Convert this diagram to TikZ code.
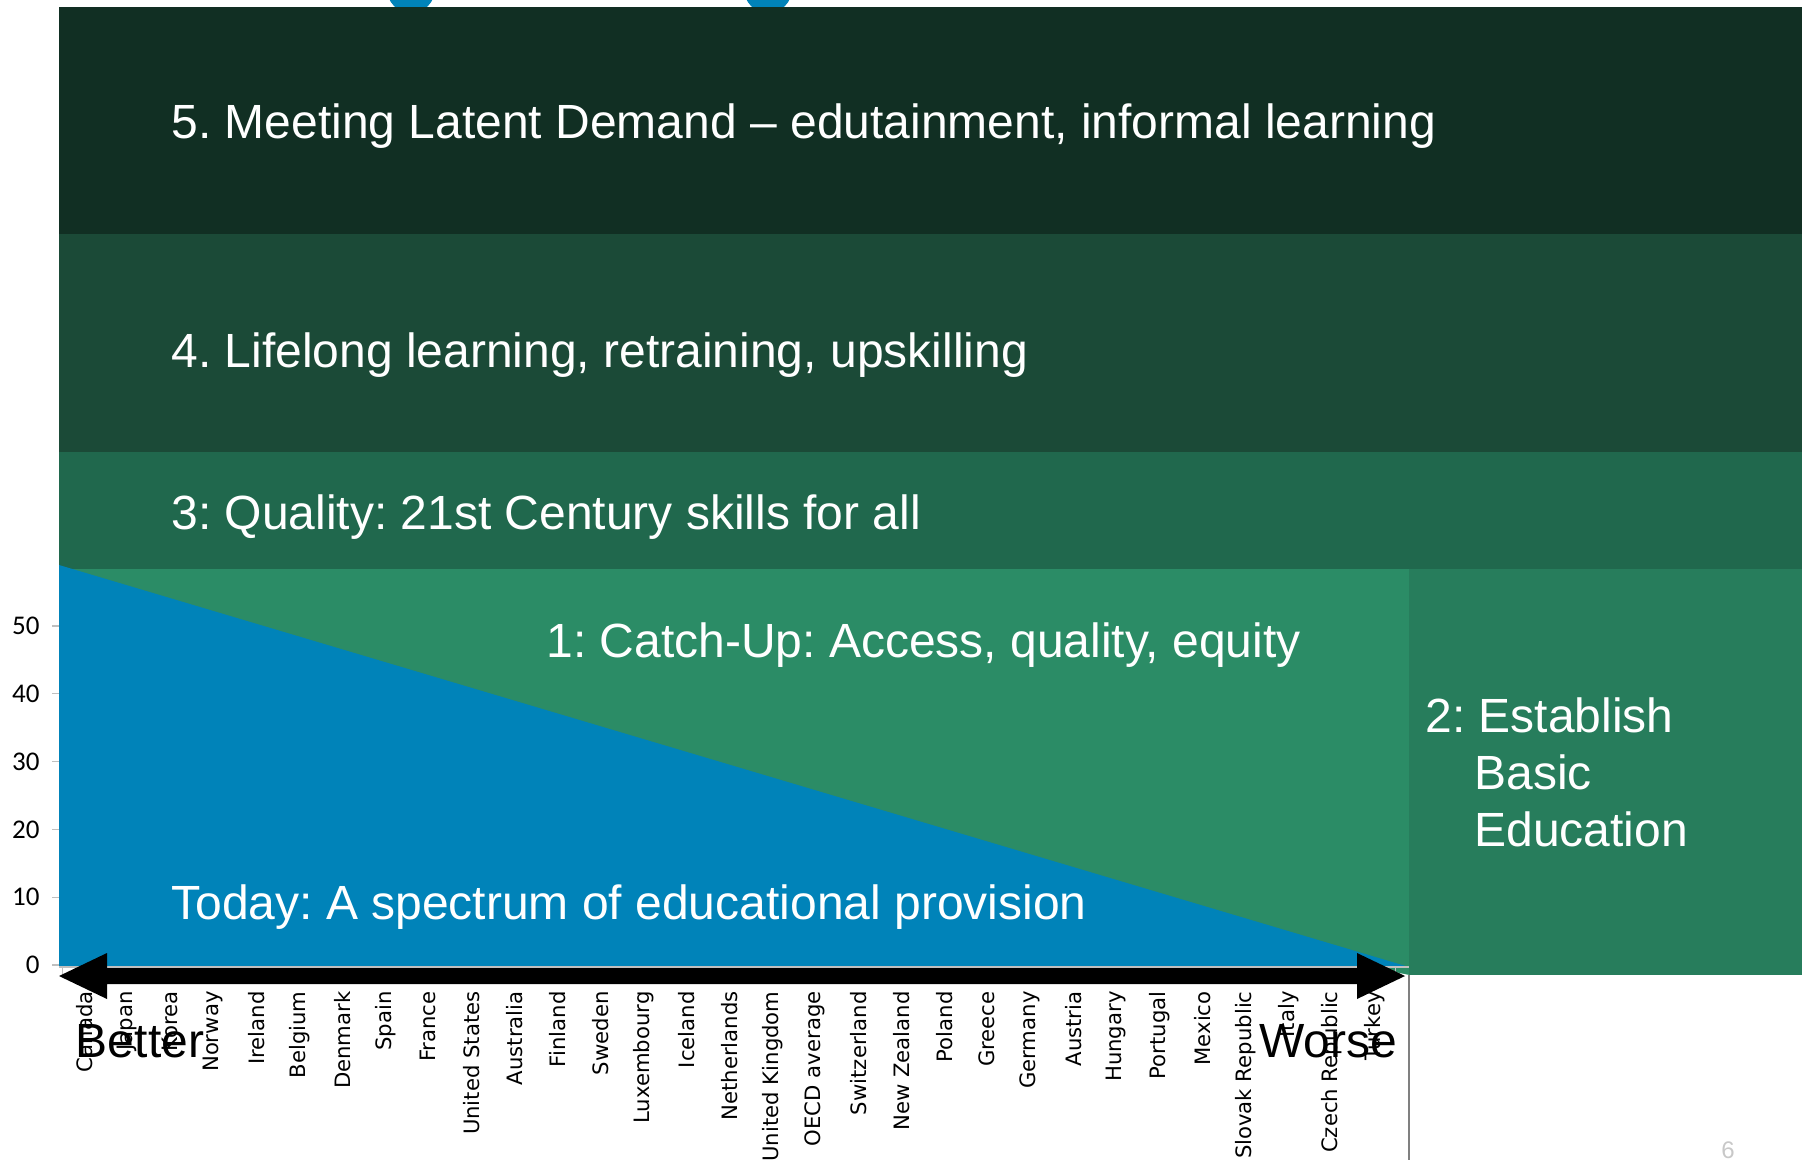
\documentclass[tikz,border=0pt]{standalone}
\usepackage{fontspec}
\setmainfont{Liberation Sans}
\newfontfamily\countryfont{DejaVu Sans}
\newfontfamily\axisfont{Carlito}
\usetikzlibrary{calc,positioning}
\frenchspacing
\definecolor{color_band_five}{HTML}{112F23}
\definecolor{color_band_four}{HTML}{1B4A37}
\definecolor{color_band_three}{HTML}{20684D}
\definecolor{color_band_two}{HTML}{277D5C}
\definecolor{color_band_one}{HTML}{2B8C66}
\definecolor{color_blue}{HTML}{0083B9}
\definecolor{color_axis}{HTML}{BFBFBF}
\definecolor{color_frame}{HTML}{808080}
\definecolor{color_page}{HTML}{C8C8C8}

\tikzset{
  stagetext/.style={text=white, font=\fontsize{24}{28.8}\selectfont, anchor=base west, inner sep=0pt},
  endtext/.style={text=black, font=\fontsize{24}{28}\selectfont, anchor=base, inner sep=0pt},
  country/.style={font=\countryfont\fontsize{10.6}{13}\selectfont, rotate=90, anchor=east, inner sep=0pt},
  axislabel/.style={font=\axisfont\fontsize{13.5}{16}\selectfont, anchor=east, inner sep=0pt}
}

\begin{document}
\begin{tikzpicture}[x=0.5pt,y=-0.5pt]
				\useasboundingbox (0,0) rectangle (1802,1160);
				% Points
				\coordinate (TL) at (59,7);
				\coordinate (TR) at (1802,7);
				\coordinate (CL) at (59,569);
				\coordinate (CR) at (1409,569);
				\coordinate (BL) at (59,967);
				\coordinate (BR) at (1409,967);

				% Dots peeking over the top
				\fill[color_blue]
					(411,-11) circle(12pt)
					(768,-11) circle(12pt)
					;

				% Bands
				\fill[color_band_five] (TL) rectangle (1802,234);
				\fill[color_band_four] (59,234) rectangle (1802,452);
				\fill[color_band_three] (59,452) rectangle (1802,569);
				\fill[color_band_one] (CL) rectangle (1409,975);
				\fill[color_band_two] (CR) rectangle (1802,975);

				% Today (blue wedge)
				\fill[color_blue]
					(59,565) --
					(BR) --
					(BL) --
					cycle;
				\fill[white]
					(BL) -- (1370,967) -- (1409,975) -- (59,975) -- cycle;

				% Axes
				\draw[color_axis, line width=0.6pt] (BL) -- (BR);
				\foreach \k in {0,...,31}
					\draw[color_axis, line width=0.6pt] ({62.7+43*\k},967) -- ({62.7+43*\k},974);
				\foreach \v in {0,10,...,50} {
					\draw[color_axis, line width=0.6pt] (52,{965-6.78*\v}) -- (59,{965-6.78*\v});
					\node[axislabel] (y\v) at (40,{965-6.78*\v}) {\v};
				}
				\draw[color_frame, line width=0.6pt] (1409,975) -- (1409,1160);

				% Better / worse arrow
				\fill[black]
					(59,976) -- (107,953) -- (107,968) -- (1357,968) -- (1357,953) --
					(1405,976) --
					(1357,999) -- (1357,984) -- (107,984) -- (107,999) -- cycle;

				% Countries
				\foreach \name [count=\i] in {Canada, Japan, Korea, Norway, Ireland, Belgium,
					Denmark, Spain, France, United States, Australia, Finland, Sweden,
					Luxembourg, Iceland, Netherlands, United Kingdom, OECD average,
					Switzerland, New Zealand, Poland, Greece, Germany, Austria, Hungary,
					Portugal, Mexico, Slovak Republic, Italy, Czech Republic, Turkey}
					\node[country] (c\i) at ({62.7+43*(\i-0.5)},991) {\name};

				\node[endtext] (better) at (140,1057) {Better};
				\node[endtext] (worse) at (1328,1057) {Worse};

				% Stages
				\node[stagetext] (stage5) at (171,139) {5. Meeting Latent Demand – edutainment, informal learning};
				\node[stagetext] (stage4) at (171,367) {4. Lifelong learning, retraining, upskilling};
				\node[stagetext] (stage3) at (171,529) {3: Quality: 21st Century skills for all};
				\node[stagetext] (stage1) at (546,657) {1: Catch-Up: Access, quality, equity};
				\node[stagetext] (today) at (171,919) {Today: A spectrum of educational provision};
				\node[stagetext] (stage2) at (1425,732) {2: Establish};
				\node[stagetext] (stage2b) at (1474,789) {Basic};
				\node[stagetext] (stage2c) at (1474,846) {Education};

				% Page number
				\node[anchor=base, inner sep=0pt, text=color_page, font=\fontsize{12}{14}\selectfont] (page) at (1728,1158) {6};
			\end{tikzpicture}
\end{document}
